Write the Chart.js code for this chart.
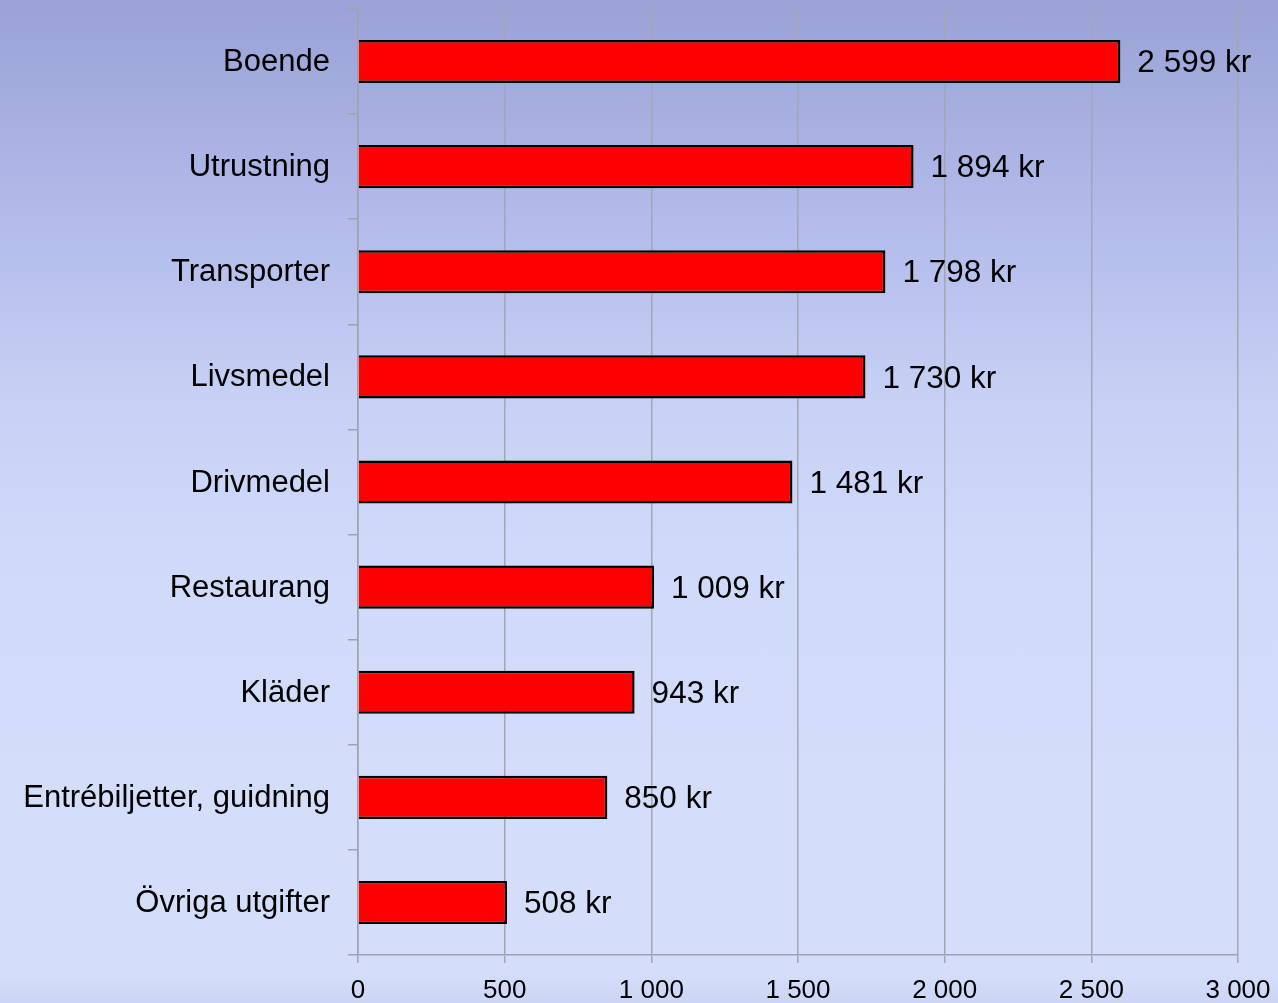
<!DOCTYPE html>
<html>
<head>
<meta charset="utf-8">
<script src="https://cdn.jsdelivr.net/npm/chart.js@4.4.1/dist/chart.umd.min.js"></script>
<style>
html,body{margin:0;padding:0;width:1278px;height:1003px;overflow:hidden;}
body{background:linear-gradient(to bottom,#9aa2d6 0%,#b2bbea 22%,#c7d1f5 40%,#cfd9f9 55%,#d4defb 80%,#d4defb 97%,#ccd6f4 100%);}
#wrap{position:absolute;left:0;top:0;width:1278px;height:1003px;}
</style>
</head>
<body>
<div id="wrap"><canvas id="c" width="1278" height="1003"></canvas></div>
<script>
const categories = ["Boende","Utrustning","Transporter","Livsmedel","Drivmedel","Restaurang","Kläder","Entrébiljetter, guidning","Övriga utgifter"];
const values = [2599,1894,1798,1730,1481,1009,943,850,508];
const xTicks = [0,500,1000,1500,2000,2500,3000];

function fmt(v){ return String(v).replace(/\B(?=(\d{3})+(?!\d))/g,' '); }

const FONT = "'Liberation Sans', Arial, sans-serif";

const labelPlugin = {
  id:'barLabels',
  afterDatasetsDraw(chart){
    const ctx = chart.ctx;
    const meta = chart.getDatasetMeta(0);
    ctx.save();
    ctx.font = "31.5px " + FONT;
    ctx.fillStyle = "#000";
    ctx.textAlign = "left";
    ctx.textBaseline = "middle";
    meta.data.forEach((el,i)=>{
      ctx.fillText(fmt(values[i]) + " kr", el.x + 17, el.y + 2);
    });
    ctx.restore();
  }
};

new Chart(document.getElementById('c'),{
  type:'bar',
  data:{
    labels:categories,
    datasets:[{
      data:values,
      backgroundColor:'#ff0000',
      borderColor:'#000000',
      borderWidth:{top:2.5,right:2.5,bottom:2.5,left:0},
      borderSkipped:'start',
      barPercentage:0.41,
      categoryPercentage:1.0
    }]
  },
  options:{
    indexAxis:'y',
    responsive:false,
    animation:false,
    devicePixelRatio:1,
    layout:{padding:{top:9,right:40,left:0,bottom:0}},
    plugins:{legend:{display:false},tooltip:{enabled:false}},
    scales:{
      x:{
        min:0,max:3000,
        afterBuildTicks(scale){ scale.ticks = xTicks.map(v=>({value:v})); },
        afterFit(scale){ scale.height = 48; scale.paddingLeft = 0; scale.paddingRight = 0; },
        grid:{color:'#a4a6b2',lineWidth:1.5,tickLength:8,drawTicks:true},
        border:{color:'#a0a2ae',width:1.5},
        ticks:{
          color:'#000',
          font:{family:FONT,size:26},
          padding:12,
          maxRotation:0,
          callback:(v)=>fmt(v)
        }
      },
      y:{
        afterFit(scale){ scale.width = 358; scale.paddingTop = 0; scale.paddingBottom = 0; },
        grid:{drawOnChartArea:false,color:'#a0a2ae',lineWidth:1.5,tickLength:10,offset:true},
        border:{color:'#a0a2ae',width:1.5},
        ticks:{
          color:'#000',
          font:{family:FONT,size:31},
          padding:18,
          labelOffset:1
        }
      }
    }
  },
  plugins:[labelPlugin]
});
</script>
</body>
</html>
